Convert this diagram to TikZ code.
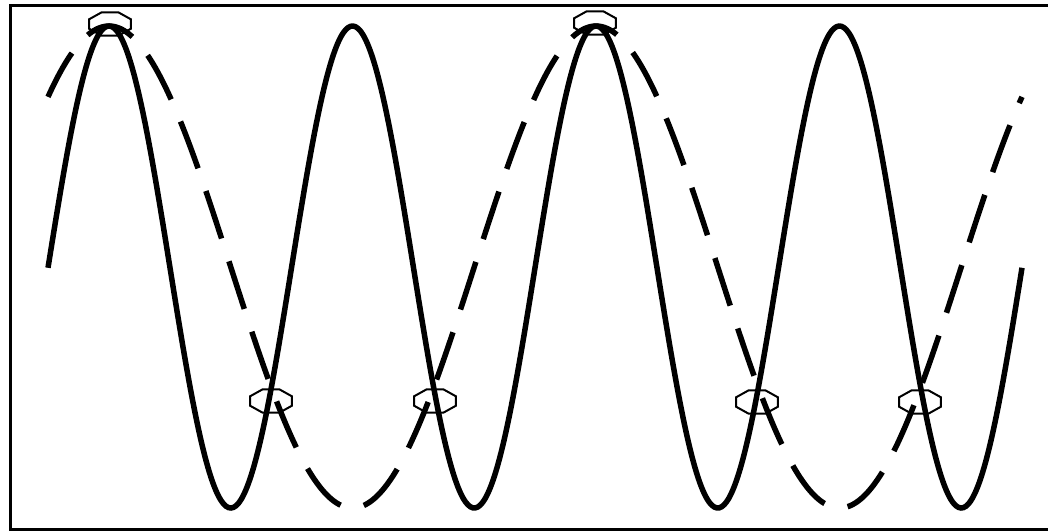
\documentclass[tikz,border=0pt]{standalone}
\usetikzlibrary{shapes.geometric}
\begin{document}
\begin{tikzpicture}[x=1pt,y=-1pt,
  wave/.style={line width=5.5pt},
  halfwave/.style={line width=5.5pt,dash pattern=on 50pt off 24pt},
  oct/.style={draw,regular polygon,regular polygon sides=8,
    minimum size=25pt,inner sep=0pt,xscale=1.8,line width=2pt}]
  \useasboundingbox (0,0) rectangle (1048,531);
  \clip (0,0) rectangle (1048,531);
  % frame (open on the right)
  \draw[line width=3pt] (1060,5.5) -- (10.5,5.5) -- (10.5,529.5) -- (1060,529.5);
  % crossing markers
  \draw (110,24) node[oct] (top1) {};
  \draw (595,23) node[oct] (top2) {};
  \draw (271,401) node[oct] (low1) {};
  \draw (435,401) node[oct] (low2) {};
  \draw (757,402) node[oct] (low3) {};
  \draw (920,402) node[oct] (low4) {};
  % the two waves
  \draw[wave] plot[domain=48:1022,samples=400,smooth]
    (\x,{267-241*cos((\x-109)/243.5*360)});
  \draw[halfwave] plot[domain=48:1022,samples=400,smooth]
    (\x,{267-241*cos((\x-109)/243.5*180)});
\end{tikzpicture}
\end{document}
